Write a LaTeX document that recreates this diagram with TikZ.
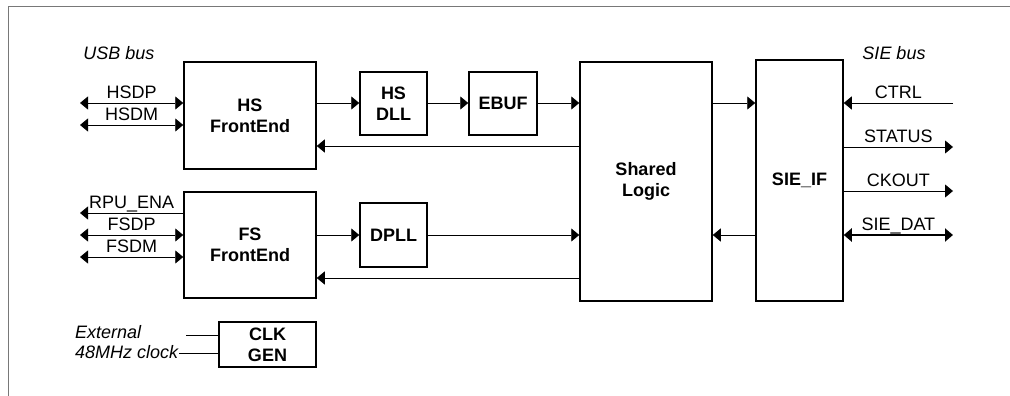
\documentclass[tikz,border=0pt]{standalone}
\usepackage{fontspec}
\setmainfont{Liberation Sans}
\usetikzlibrary{arrows.meta}
\definecolor{framegray}{RGB}{120,120,120}

\tikzset{
  blk/.style 2 args={draw,line width=1.5pt,minimum width=#1,minimum height=#2,
    inner sep=0pt,align=center,font=\fontsize{18}{21}\selectfont\bfseries},
  sig/.style={line width=0.9pt},
  lbl/.style={above,inner sep=0pt,text depth=4pt},
  note/.style={font=\fontsize{18}{21}\selectfont\itshape,inner sep=1pt}
}

\begin{document}
\begin{tikzpicture}[x=1pt,y=-1pt,>={Triangle[length=8pt,width=13pt]},
    every node/.style={font=\fontsize{18}{21}\selectfont}]
  \useasboundingbox (0,0) rectangle (1010,396);
  \draw[framegray,line width=1pt] (1010,7) -- (8,7) -- (8,396);

  % blocks
  \node[blk={132pt}{107pt}] (hsfe) at (250,115.5) {HS\\FrontEnd};
  \node[blk={132pt}{106pt}] (fsfe) at (250,245) {FS\\FrontEnd};
  \node[blk={67pt}{63pt}] (hsdll) at (393.5,103.5) {HS\\DLL};
  \node[blk={68pt}{63pt}] (ebuf) at (503,103.5) {EBUF};
  \node[blk={67pt}{64pt}] (dpll) at (393.5,235) {DPLL};
  \node[blk={132pt}{239pt}] (logic) at (646,181.5) {Shared\\Logic};
  \node[blk={87pt}{241pt}] (sieif) at (799.5,180.5) {SIE\_IF};
  \node[blk={97pt}{45pt}] (clkgen) at (267.5,344.5) {CLK\\GEN};

  \node[note] (usb) at (119,53) {USB bus};
  \node[note] (sie) at (894,53) {SIE bus};
  \node[note,anchor=west] (ext1) at (74,332) {External};
  \node[note,anchor=west] (ext2) at (74,352) {48MHz clock};

  % free ends
  \coordinate (hsdp) at (80,103);   \coordinate (hsdm) at (80,125);
  \coordinate (rpu) at (80,213);    \coordinate (fsdp) at (80,235);
  \coordinate (fsdm) at (80,257);
  \coordinate (ctrl) at (953,103);  \coordinate (status) at (953,147);
  \coordinate (ckout) at (953,191); \coordinate (siedat) at (953,235);
  \coordinate (hsret) at (0,146);   \coordinate (fsret) at (0,278);
  \coordinate (extin) at (186,335); \coordinate (clkin) at (0,353);

  % usb side
  \draw[sig,<->] (hsdp) -- (hsdp -| hsfe.west) node[lbl,midway] {HSDP};
  \draw[sig,<->] (hsdm) -- (hsdm -| hsfe.west) node[lbl,midway] {HSDM};
  \draw[sig,<-] (rpu) -- (rpu -| fsfe.west) node[lbl,midway] {RPU\_ENA};
  \draw[sig,<->] (fsdp) -- (fsdp -| fsfe.west) node[lbl,midway] {FSDP};
  \draw[sig,<->] (fsdm) -- (fsdm -| fsfe.west) node[lbl,midway] {FSDM};

  % data path
  \draw[sig,->] (hsfe.east |- hsdp) -- (hsdp -| hsdll.west);
  \draw[sig,->] (hsdll.east |- hsdp) -- (hsdp -| ebuf.west);
  \draw[sig,->] (ebuf.east |- hsdp) -- (hsdp -| logic.west);
  \draw[sig,->] (logic.west |- hsret) -- (hsret -| hsfe.east);
  \draw[sig,->] (fsfe.east |- fsdp) -- (fsdp -| dpll.west);
  \draw[sig,->] (dpll.east |- fsdp) -- (fsdp -| logic.west);
  \draw[sig,->] (logic.west |- fsret) -- (fsret -| fsfe.east);
  \draw[sig,->] (logic.east |- hsdp) -- (hsdp -| sieif.west);
  \draw[sig,->] (sieif.west |- fsdp) -- (fsdp -| logic.east);

  % sie side
  \draw[sig,->] (ctrl) -- (ctrl -| sieif.east) node[lbl,midway] {CTRL};
  \draw[sig,->] (status -| sieif.east) -- (status) node[lbl,midway] {STATUS};
  \draw[sig,->] (ckout -| sieif.east) -- (ckout) node[lbl,midway] {CKOUT};
  \draw[line width=2pt,<->] (siedat -| sieif.east) -- (siedat) node[lbl,midway] {SIE\_DAT};

  % clock
  \draw[sig] (extin) -- (extin -| clkgen.west);
  \draw[sig] (ext2.east |- clkin) -- (clkin -| clkgen.west);
\end{tikzpicture}
\end{document}
